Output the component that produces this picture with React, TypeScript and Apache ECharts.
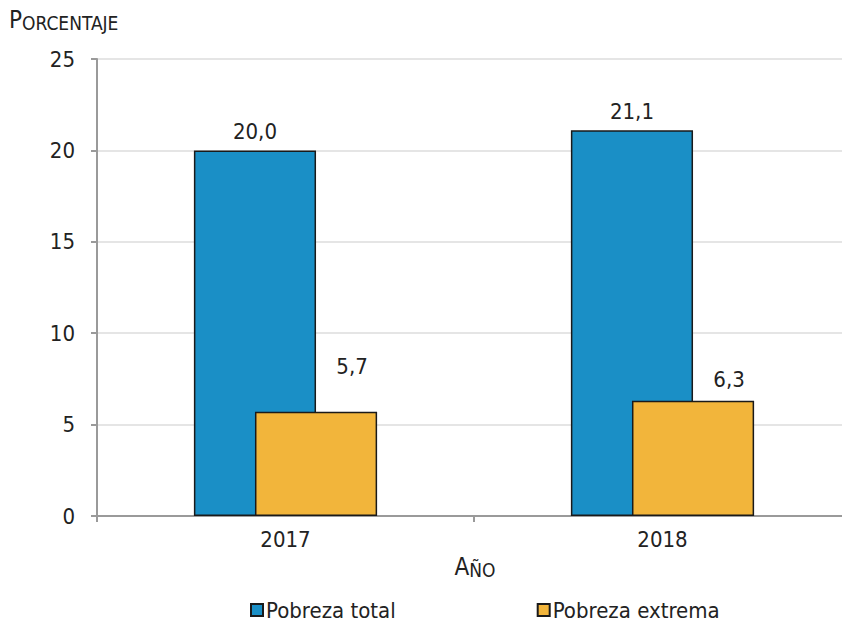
import React, { useEffect, useRef } from "react";
import * as echarts from "echarts";

const categories = ["2017", "2018"];
const pobrezaTotal = [20.0, 21.1];
const pobrezaExtrema = [5.7, 6.3];
const seriesNames = ["Pobreza total", "Pobreza extrema"];

const FONT = "'DejaVu Sans Condensed', 'DejaVu Sans', sans-serif";
const extremaLabelOffsets: [number, number][] = [[36, -26], [36, -2]];

export default function App() {
  const ref = useRef<HTMLDivElement>(null);
  useEffect(() => {
    if (!ref.current) return;
    const chart = echarts.init(ref.current, null, { renderer: "svg" });
    const fmt = (p: any) => Number(p.value).toFixed(1).replace(".", ",");
    chart.setOption({
      animation: false,
      textStyle: { fontFamily: FONT },
      grid: { left: 97, right: -9, top: 59, bottom: 106, containLabel: false, outerBoundsMode: "none" },
      xAxis: {
        type: "category",
        data: categories,
        axisLine: { lineStyle: { color: "#9a9a9a", width: 2 } },
        axisTick: { show: true, length: 6, lineStyle: { color: "#9a9a9a", width: 2 } },
        axisLabel: { color: "#222", fontSize: 22, margin: 12, fontFamily: FONT },
      },
      yAxis: {
        type: "value",
        min: 0,
        max: 25,
        interval: 5,
        axisLine: { show: true, lineStyle: { color: "#9a9a9a", width: 2 } },
        axisTick: { show: true, length: 6, lineStyle: { color: "#9a9a9a", width: 2 } },
        axisLabel: { color: "#222", fontSize: 22, margin: 22, fontFamily: FONT },
        splitLine: { lineStyle: { color: "#dcdcdc", width: 1.5 } },
      },
      legend: {
        left: 245,
        top: 594,
        itemWidth: 12,
        itemHeight: 12,
        itemGap: 141,
        icon: "rect",
        textStyle: { color: "#222", fontSize: 22, fontFamily: FONT, padding: [0, 0, 0, -2] },
        data: seriesNames,
      },
      series: [
        {
          name: seriesNames[0],
          type: "bar",
          data: pobrezaTotal,
          barWidth: "32.4%",
          barGap: "-50%",
          itemStyle: { color: "#1a8fc6", borderColor: "#1a1a1a", borderWidth: 1.5 },
          label: { show: true, position: "top", distance: 8, color: "#222", fontSize: 22, fontFamily: FONT, formatter: fmt },
        },
        {
          name: seriesNames[1],
          type: "bar",
          data: pobrezaExtrema.map((v, i) => ({ value: v, label: { offset: extremaLabelOffsets[i] } })),
          barWidth: "32.4%",
          itemStyle: { color: "#f2b53b", borderColor: "#1a1a1a", borderWidth: 1.5 },
          label: { show: true, position: "top", distance: 8, color: "#222", fontSize: 22, fontFamily: FONT, formatter: fmt },
        },
      ],
      graphic: [
        {
          type: "text",
          left: 9,
          top: 8,
          style: {
            text: "{a|P}{b|ORCENTAJE}",
            rich: {
              a: { fontSize: 24, fill: "#222", fontFamily: FONT, verticalAlign: "bottom" },
              b: { fontSize: 19, fill: "#222", fontFamily: FONT, verticalAlign: "bottom" },
            },
          },
        },
        {
          type: "text",
          x: 475,
          y: 567,
          style: {
            text: "{a|A}{b|ÑO}",
            align: "center",
            verticalAlign: "middle",
            rich: {
              a: { fontSize: 24, fill: "#222", fontFamily: FONT, verticalAlign: "bottom" },
              b: { fontSize: 19, fill: "#222", fontFamily: FONT, verticalAlign: "bottom" },
            },
          },
        },
      ],
    });
    return () => chart.dispose();
  }, []);
  return <div ref={ref} style={{ position: "absolute", left: 0, top: 0, width: 842, height: 622 }} />;
}
